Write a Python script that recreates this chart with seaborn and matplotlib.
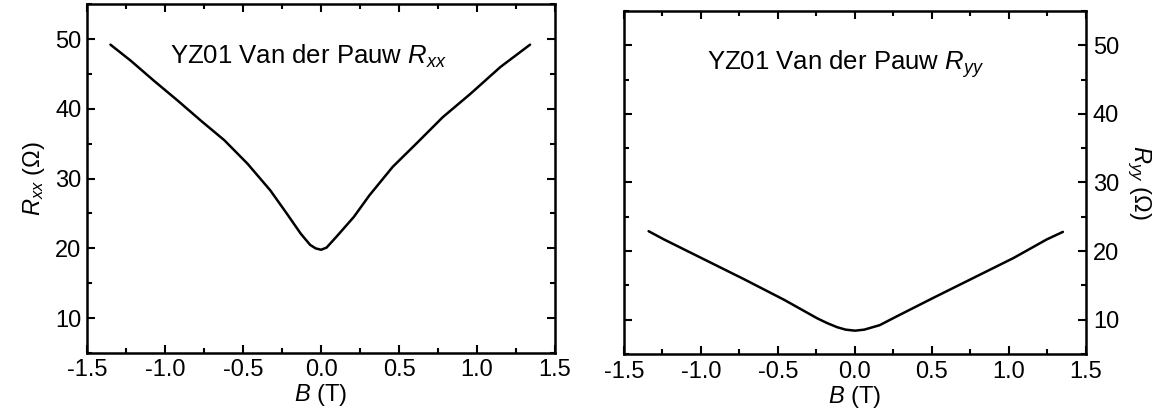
import matplotlib
matplotlib.use("Agg")
import matplotlib.pyplot as plt
from matplotlib.ticker import MultipleLocator
import seaborn as sns
import pandas as pd

# --- data ---
B_xx = [-1.35, -1.22, -1.07, -0.92, -0.77, -0.62, -0.47, -0.325, -0.22, -0.13,
        -0.07, -0.035, 0.0, 0.035, 0.10, 0.21, 0.31, 0.46, 0.61, 0.78, 0.955,
        1.15, 1.34]
R_xx = [49.2, 46.9, 44.0, 41.2, 38.3, 35.5, 32.1, 28.3, 25.0, 22.1,
        20.5, 20.0, 19.8, 20.1, 21.7, 24.5, 27.6, 31.7, 35.0, 38.8, 42.1,
        46.0, 49.2]

B_yy = [-1.34, -1.24, -0.98, -0.72, -0.46, -0.245, -0.18, -0.115, -0.06, 0.0,
        0.06, 0.16, 0.29, 0.51, 0.77, 1.03, 1.245, 1.35]
R_yy = [22.9, 21.7, 18.8, 15.9, 12.9, 10.2, 9.5, 8.9, 8.55, 8.4,
        8.55, 9.2, 10.7, 13.2, 16.1, 19.0, 21.7, 22.8]

x_ticks = [-1.5, -1.0, -0.5, 0.0, 0.5, 1.0, 1.5]
y_ticks = [10, 20, 30, 40, 50]
title_xx = r"YZ01 Van der Pauw $R_{xx}$"
title_yy = r"YZ01 Van der Pauw $R_{yy}$"
xlabel = r"$B$ (T)"
ylabel_xx = r"$R_{xx}$ (Ω)"
ylabel_yy = r"$R_{yy}$ (Ω)"

sns.set_theme(style="ticks")
plt.rcParams["font.family"] = ["Liberation Sans", "DejaVu Sans"]
plt.rcParams["mathtext.fontset"] = "custom"
plt.rcParams["mathtext.rm"] = "Liberation Sans"
plt.rcParams["mathtext.it"] = "Liberation Sans:italic"
plt.rcParams["mathtext.default"] = "it"
for key in ("text.color", "axes.labelcolor", "xtick.color", "ytick.color",
            "axes.edgecolor"):
    plt.rcParams[key] = "black"

fig = plt.figure(figsize=(11.7, 4.18), dpi=100)
ax1 = fig.add_axes([0.0744, 0.1555, 0.4, 0.8345])
ax2 = fig.add_axes([0.5333, 0.1531, 0.3949, 0.8206])

df_xx = pd.DataFrame({"B": B_xx, "R": R_xx})
df_yy = pd.DataFrame({"B": B_yy, "R": R_yy})
sns.lineplot(data=df_xx, x="B", y="R", ax=ax1, color="black", lw=1.8)
sns.lineplot(data=df_yy, x="B", y="R", ax=ax2, color="black", lw=1.8)

tick_fs = 17
for ax in (ax1, ax2):
    ax.set_xlim(-1.5, 1.5)
    ax.set_ylim(5, 55)
    ax.set_xticks(x_ticks)
    ax.set_xticklabels([f"{v:.1f}" for v in x_ticks])
    ax.set_yticks(y_ticks)
    ax.xaxis.set_minor_locator(MultipleLocator(0.25))
    ax.yaxis.set_minor_locator(MultipleLocator(5))
    for s in ax.spines.values():
        s.set_linewidth(1.8)
        s.set_color("black")
    ax.tick_params(which="both", direction="in", top=True, bottom=True,
                   left=True, right=True, width=1.5, colors="black",
                   labelsize=tick_fs)
    ax.tick_params(which="major", length=6)
    ax.tick_params(which="minor", length=3.5)
    ax.set_xlabel(xlabel, fontsize=17, labelpad=1, color="black")

ax1.tick_params(labelleft=True, labelright=False, pad=4)
ax1.set_ylabel(ylabel_xx, fontsize=17, labelpad=6, color="black")
ax2.tick_params(labelleft=False, labelright=True, pad=5)
ax2.yaxis.set_label_position("right")
ax2.set_ylabel(ylabel_yy, fontsize=17, labelpad=24, rotation=-90,
               color="black")

ax1.text(0.177, 0.828, title_xx, transform=ax1.transAxes, fontsize=18.5,
         ha="left", va="baseline", color="black")
ax2.text(0.179, 0.828, title_yy, transform=ax2.transAxes, fontsize=18.5,
         ha="left", va="baseline", color="black")

fig.savefig("out.png", dpi=100)
